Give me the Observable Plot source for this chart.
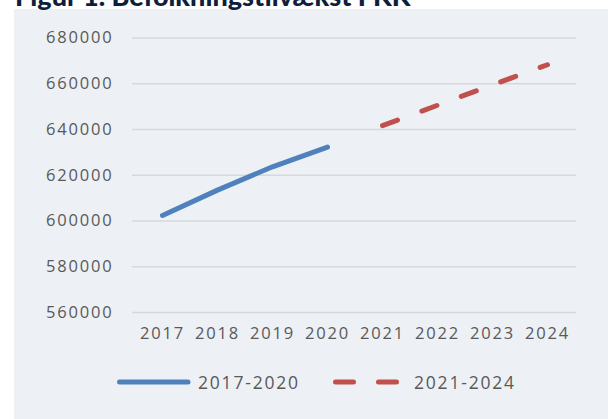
<!DOCTYPE html>
<html>
<head>
<meta charset="utf-8">
<script src="https://cdn.jsdelivr.net/npm/d3@7"></script>
<script src="https://cdn.jsdelivr.net/npm/@observablehq/plot@0.6"></script>
<style>
  html, body { margin: 0; padding: 0; background: #ffffff; }
  #wrap { position: relative; width: 608px; height: 419px; overflow: hidden; }
  #panel { position: absolute; left: 14px; top: 9px; width: 594px; height: 410px; background: #edf0f4; }
  #title { position: absolute; left: 15px; top: -19px; font-family: Lato, "Open Sans", sans-serif; font-weight: 900; font-size: 27px; color: #0d1f3c; white-space: nowrap; line-height: 30px; }
  #chart { position: absolute; left: 0; top: 0; }
  #legend { position: absolute; top: 370px; left: 0; width: 608px; height: 24px; font-family: "Open Sans", sans-serif; font-size: 17.5px; letter-spacing: 1.8px; color: #595959; }
  .item { position: absolute; top: 0; display: flex; align-items: center; height: 24px; }
  .item svg { display: block; margin-right: 5px; }
</style>
</head>
<body>
<div id="wrap">
  <div id="panel"></div>
  <div id="title">Figur 1. Befolkningstilvækst FKK</div>
  <div id="chart"></div>
  <div id="legend"></div>
</div>
<script>
const years = ["2017", "2018", "2019", "2020", "2021", "2022", "2023", "2024"];
const actualYears = ["2017", "2018", "2019", "2020"];
const actualValues = [602400, 613500, 623700, 632300];
const projYears = ["2021", "2022", "2023", "2024"];
const projValues = [641700, 650600, 659500, 668300];
const yTicks = [560000, 580000, 600000, 620000, 640000, 660000, 680000];
const seriesNames = ["2017-2020", "2021-2024"];
const seriesColors = ["#4f81bd", "#c0504d"];

const actual = actualYears.map((y, i) => ({year: y, value: actualValues[i]}));
const proj = projYears.map((y, i) => ({year: y, value: projValues[i]}));

const chart = Plot.plot({
  width: 608,
  height: 350,
  marginLeft: 132,
  marginRight: 32,
  marginTop: 37.5,
  marginBottom: 38,
  style: {background: "transparent", fontFamily: "'Open Sans', sans-serif", fontSize: "16.5px", color: "#595959", letterSpacing: "1.8px"},
  x: {type: "point", domain: years, padding: 0.5, label: null},
  y: {domain: [560000, 680000], label: null},
  marks: [
    Plot.ruleY(yTicks, {stroke: "#d6d9dc", strokeWidth: 1.5}),
    Plot.axisY({ticks: yTicks, tickSize: 0, tickPadding: 19, tickFormat: d => String(d), label: null}),
    Plot.axisX({tickSize: 0, tickPadding: 15, label: null}),
    Plot.line(actual, {x: "year", y: "value", stroke: seriesColors[0], strokeWidth: 5, strokeLinecap: "round"}),
    Plot.line(proj, {x: "year", y: "value", stroke: seriesColors[1], strokeWidth: 5, strokeLinecap: "round", strokeDasharray: "16,26"})
  ]
});
document.getElementById("chart").appendChild(chart);

const legend = document.getElementById("legend");
const pos = [117, 333];
seriesNames.forEach((name, i) => {
  const item = document.createElement("div");
  item.className = "item";
  item.style.left = pos[i] + "px";
  const dash = i === 1 ? 'stroke-dasharray="18,25"' : '';
  item.innerHTML = `<svg width="76" height="10"><line x1="2.5" y1="5" x2="71" y2="5" stroke="${seriesColors[i]}" stroke-width="5" stroke-linecap="round" ${dash}/></svg><span>${name}</span>`;
  legend.appendChild(item);
});
</script>
</body>
</html>
